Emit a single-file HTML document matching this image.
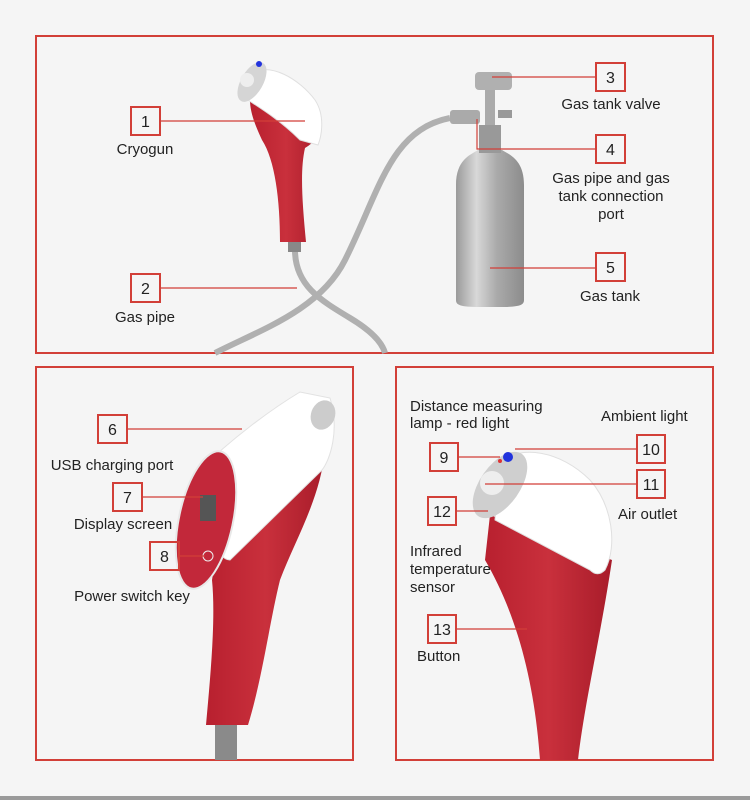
<!DOCTYPE html>
<html><head><meta charset="utf-8"><style>
body{margin:0;background:#f5f5f5}
svg{display:block}
text{font-family:"Liberation Sans",sans-serif;font-size:15px;fill:#222}
.b{fill:none;stroke:#d23f38;stroke-width:2}
.l{stroke:#d23f38;stroke-width:1.2;fill:none}
.n{font-size:16px;text-anchor:middle}
.c{text-anchor:middle}
</style></head><body>
<svg width="750" height="800" viewBox="0 0 750 800">
<defs>
<linearGradient id="al" x1="0" x2="1"><stop offset="0" stop-color="#9a9a9a"/><stop offset="0.3" stop-color="#d8d8d8"/><stop offset="0.6" stop-color="#aaa"/><stop offset="1" stop-color="#8c8c8c"/></linearGradient>
<linearGradient id="rd" x1="0" x2="1"><stop offset="0" stop-color="#b8202f"/><stop offset="0.5" stop-color="#c9303c"/><stop offset="1" stop-color="#a81c2a"/></linearGradient>
</defs>
<rect width="750" height="800" fill="#f5f5f5"/>
<rect x="0" y="796" width="750" height="4" fill="#9a9a9a"/>
<rect class="b" x="36" y="36" width="677" height="317"/>
<rect class="b" x="36" y="367" width="317" height="393"/>
<rect class="b" x="396" y="367" width="317" height="393"/>

<!-- top hoses -->
<path d="M295 250 C295 285,320 300,350 318 C370 330,382 342,385 353" stroke="#b0b0b0" stroke-width="6" fill="none"/>
<path d="M215 353 C260 330,320 310,345 260 C380 190,390 130,450 118" stroke="#b0b0b0" stroke-width="6" fill="none"/>
<!-- top gun -->
<path d="M250 100 L322 125 C320 135,315 142,305 148 C300 170,302 200,306 242 L280 242 C280 200,275 160,262 140 C255 125,250 112,250 100Z" fill="url(#rd)"/>
<path d="M248 75 C270 60,300 80,315 100 C325 115,322 135,318 145 L300 140 C280 120,260 108,248 100Z" fill="#fff" stroke="#e0e0e0"/>
<ellipse cx="252" cy="82" rx="11" ry="22" transform="rotate(30 252 82)" fill="#d5d5d5"/>
<circle cx="247" cy="80" r="7" fill="#eee"/>
<circle cx="259" cy="64" r="3" fill="#2233dd"/>
<rect x="288" y="242" width="13" height="10" fill="#888"/>
<!-- bottle -->
<path d="M456 185 C456 160,470 155,478 150 L502 150 C510 155,524 160,524 185 L524 300 C524 305,520 307,500 307 L480 307 C460 307,456 305,456 300Z" fill="url(#al)"/>
<rect x="479" y="125" width="22" height="28" fill="#999"/>
<rect x="485" y="90" width="10" height="35" fill="#aaa"/>
<rect x="475" y="72" width="37" height="18" rx="4" fill="#b0b0b0"/>
<rect x="450" y="110" width="30" height="14" rx="3" fill="#aaa"/>
<rect x="498" y="110" width="14" height="8" fill="#999"/>
<!-- top labels -->
<rect class="b" x="131" y="107" width="29" height="28" fill="#f5f5f5"/><text class="n" x="145.5" y="127">1</text>
<line class="l" x1="160" y1="121" x2="305" y2="121"/><text class="c" x="145" y="154">Cryogun</text>
<rect class="b" x="131" y="274" width="29" height="28" fill="#f5f5f5"/><text class="n" x="145.5" y="294">2</text>
<line class="l" x1="160" y1="288" x2="297" y2="288"/><text class="c" x="145" y="322">Gas pipe</text>
<rect class="b" x="596" y="63" width="29" height="28" fill="#f5f5f5"/><text class="n" x="610.5" y="83">3</text>
<line class="l" x1="492" y1="77" x2="596" y2="77"/><text class="c" x="611" y="109">Gas tank valve</text>
<rect class="b" x="596" y="135" width="29" height="28" fill="#f5f5f5"/><text class="n" x="610.5" y="155">4</text>
<polyline class="l" points="477,119 477,149 596,149"/>
<text class="c" x="611" y="183">Gas pipe and gas</text><text class="c" x="611" y="201">tank connection</text><text class="c" x="611" y="219">port</text>
<rect class="b" x="596" y="253" width="29" height="28" fill="#f5f5f5"/><text class="n" x="610.5" y="273">5</text>
<line class="l" x1="490" y1="268" x2="596" y2="268"/><text class="c" x="610" y="301">Gas tank</text>

<!-- bottom-left gun -->
<rect x="215" y="722" width="22" height="38" fill="#8a8a8a"/>
<path d="M215 560 L325 450 C320 500,295 540,280 580 C270 620,262 680,248 725 L206 725 C210 680,216 620,212 580Z" fill="url(#rd)"/>
<path d="M200 470 C230 440,270 410,300 392 L330 398 C340 430,330 460,322 470 L230 560 C215 560,205 520,200 470Z" fill="#fff" stroke="#e2e2e2"/>
<ellipse cx="206" cy="520" rx="27" ry="70" transform="rotate(12 206 520)" fill="#c2283a" stroke="#e8e8e8" stroke-width="2"/>
<rect x="200" y="495" width="16" height="26" fill="#555"/>
<circle cx="208" cy="556" r="5" fill="none" stroke="#eee" stroke-width="1"/>
<ellipse cx="323" cy="415" rx="12" ry="15" transform="rotate(20 323 415)" fill="#ccc"/>
<!-- bottom-left labels -->
<rect class="b" x="98" y="415" width="29" height="28" fill="#f5f5f5"/><text class="n" x="112.5" y="435">6</text>
<line class="l" x1="127" y1="429" x2="242" y2="429"/><text class="c" x="112" y="470">USB charging port</text>
<rect class="b" x="113" y="483" width="29" height="28" fill="#f5f5f5"/><text class="n" x="127.5" y="503">7</text>
<line class="l" x1="142" y1="497" x2="203" y2="497"/><text class="c" x="123" y="529">Display screen</text>
<rect class="b" x="150" y="542" width="29" height="28" fill="#f5f5f5"/><text class="n" x="164.5" y="562">8</text>
<line class="l" x1="179" y1="556" x2="205" y2="556"/><text class="c" x="132" y="601">Power switch key</text>

<!-- bottom-right gun -->
<path d="M490 515 L612 560 C600 640,585 700,578 760 L540 760 C535 690,520 620,485 560Z" fill="url(#rd)"/>
<path d="M500 462 C520 445,560 450,590 480 C612 505,618 545,605 570 C600 575,595 575,590 570 L495 520Z" fill="#fff" stroke="#e0e0e0"/>
<ellipse cx="500" cy="485" rx="20" ry="38" transform="rotate(35 500 485)" fill="#cfcfcf"/>
<circle cx="492" cy="483" r="12" fill="#eee"/>
<circle cx="508" cy="457" r="5" fill="#2233dd"/>
<circle cx="500" cy="461" r="2" fill="#d33"/>
<!-- bottom-right labels -->
<text x="410" y="411">Distance measuring</text><text x="410" y="428">lamp - red light</text>
<text x="601" y="421">Ambient light</text>
<rect class="b" x="430" y="443" width="28" height="28" fill="#f5f5f5"/><text class="n" x="444" y="463">9</text>
<line class="l" x1="458" y1="457" x2="500" y2="457"/>
<rect class="b" x="637" y="435" width="28" height="28" fill="#f5f5f5"/><text class="n" x="651" y="455">10</text>
<line class="l" x1="515" y1="449" x2="637" y2="449"/>
<rect class="b" x="637" y="470" width="28" height="28" fill="#f5f5f5"/><text class="n" x="651" y="490">11</text>
<line class="l" x1="485" y1="484" x2="637" y2="484"/>
<text x="618" y="519">Air outlet</text>
<rect class="b" x="428" y="497" width="28" height="28" fill="#f5f5f5"/><text class="n" x="442" y="517">12</text>
<line class="l" x1="456" y1="511" x2="488" y2="511"/>
<text x="410" y="556">Infrared</text><text x="410" y="574">temperature</text><text x="410" y="592">sensor</text>
<rect class="b" x="428" y="615" width="28" height="28" fill="#f5f5f5"/><text class="n" x="442" y="635">13</text>
<line class="l" x1="456" y1="629" x2="527" y2="629"/>
<text x="417" y="661">Button</text>
</svg>
</body></html>
